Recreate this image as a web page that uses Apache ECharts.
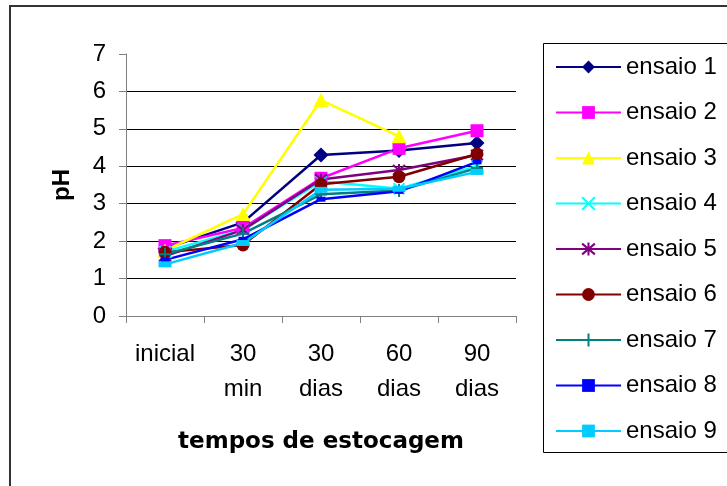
<!DOCTYPE html>
<html>
<head>
<meta charset="utf-8">
<script src="https://cdn.jsdelivr.net/npm/echarts@6/dist/echarts.min.js"></script>
<style>
html,body{margin:0;padding:0;background:#fff;}
#chart{width:727px;height:486px;}
</style>
</head>
<body>
<div id="chart"></div>
<script>
const categories = ['inicial', '30\nmin', '30\ndias', '60\ndias', '90\ndias'];
const yTicks = [0, 1, 2, 3, 4, 5, 6, 7];
const seriesNames = ['ensaio 1','ensaio 2','ensaio 3','ensaio 4','ensaio 5','ensaio 6','ensaio 7','ensaio 8','ensaio 9'];
const ensaio1 = [1.80, 2.50, 4.30, 4.42, 4.62];
const ensaio2 = [1.88, 2.35, 3.68, 4.48, 4.95];
const ensaio3 = [1.75, 2.72, 5.77, 4.80, null];
const ensaio4 = [1.72, 2.30, 3.60, 3.40, 4.00];
const ensaio5 = [1.60, 2.30, 3.65, 3.90, 4.30];
const ensaio6 = [1.70, 1.90, 3.52, 3.72, 4.33];
const ensaio7 = [1.65, 2.20, 3.25, 3.35, 3.95];
const ensaio8 = [1.50, 2.05, 3.12, 3.33, 4.12];
const ensaio9 = [1.38, 1.95, 3.37, 3.40, 3.85];
const allData = [ensaio1, ensaio2, ensaio3, ensaio4, ensaio5, ensaio6, ensaio7, ensaio8, ensaio9];

const colors = ['#000080','#FF00FF','#FFFF00','#00FFFF','#800080','#800000','#008080','#0000FF','#00CCFF'];
const symbols = [
  'diamond', 'rect', 'triangle',
  'path://M0,0L10,10M10,0L0,10',
  'path://M5,0L5,10M0.8,0.8L9.2,9.2M9.2,0.8L0.8,9.2',
  'circle',
  'path://M5,0L5,10M0,5L10,5',
  'rect', 'rect'
];
const symbolSizes = [[15,15],[13,13],[15,14],[11,11],[12,12],[13,13],[12,13],[9,5],[13,6]];
const stroked = [false,false,false,true,true,false,true,false,false];

const series = seriesNames.map((name, i) => ({
  name: name,
  type: 'line',
  data: allData[i],
  symbol: symbols[i],
  symbolSize: symbolSizes[i],
  showAllSymbol: true,
  connectNulls: false,
  lineStyle: { color: colors[i], width: 2.5 },
  itemStyle: stroked[i]
    ? { color: colors[i], borderColor: colors[i], borderWidth: 2 }
    : { color: colors[i], borderColor: colors[i], borderWidth: 0 },
  emphasis: { disabled: true },
  animation: false
}));

const chart = echarts.init(document.getElementById('chart'));
chart.setOption({
  animation: false,
  backgroundColor: '#fff',
  grid: { left: 126, right: 211, top: 54, bottom: 170 },
  xAxis: {
    type: 'category',
    data: categories,
    boundaryGap: true,
    name: 'tempos de estocagem',
    nameLocation: 'middle',
    nameGap: 115,
    nameTextStyle: { fontFamily: 'DejaVu Sans', fontWeight: 'bold', fontSize: 23, color: '#000' },
    axisLine: { lineStyle: { color: '#808080', width: 1 } },
    axisTick: { show: true, alignWithLabel: false, inside: false, length: 7, lineStyle: { color: '#808080' } },
    axisLabel: { interval: 0, margin: 21, fontFamily: 'Liberation Sans', fontSize: 24, lineHeight: 35, color: '#000' },
    splitLine: { show: false }
  },
  yAxis: {
    type: 'value',
    min: yTicks[0],
    max: yTicks[yTicks.length - 1],
    interval: 1,
    name: 'pH',
    nameLocation: 'middle',
    nameGap: 52,
    nameRotate: 90,
    nameTextStyle: { fontFamily: 'Liberation Sans', fontWeight: 'bold', fontSize: 24, color: '#000' },
    axisLine: { show: true, lineStyle: { color: '#808080', width: 1 } },
    axisTick: { show: true, inside: false, length: 7, lineStyle: { color: '#808080' } },
    axisLabel: { margin: 20, fontFamily: 'Liberation Sans', fontSize: 24, color: '#000' },
    splitLine: { show: true, lineStyle: { color: ['#808080','#000','#000','#000','#000','#000','#000','rgba(0,0,0,0)'], width: 1 } }
  },
  legend: {
    orient: 'vertical',
    left: 550,
    top: 50,
    itemWidth: 65,
    itemHeight: 16,
    itemGap: 21.5,
    data: seriesNames,
    textStyle: { fontFamily: 'Liberation Sans', fontSize: 24, lineHeight: 24, color: '#000' },
    selectedMode: false
  },
  graphic: [
    { type: 'rect', silent: true, z: -1, shape: { x: 10, y: 6, width: 800, height: 600 }, style: { fill: 'none', stroke: '#333', lineWidth: 2 } },
    { type: 'rect', silent: true, z: -1, shape: { x: 543.5, y: 43.5, width: 200, height: 409 }, style: { fill: 'none', stroke: '#000', lineWidth: 1 } }
  ],
  series: series
});
</script>
</body>
</html>
